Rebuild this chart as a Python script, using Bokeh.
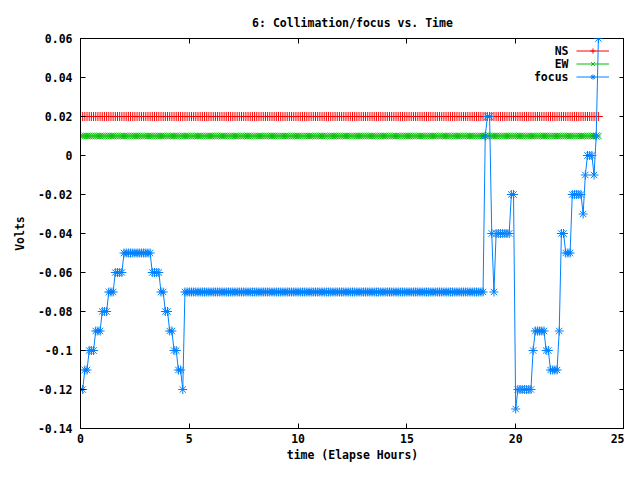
import numpy as np
from bokeh.plotting import figure
from bokeh.models import (LinearAxis, FixedTicker, CustomJSTickFormatter, Range1d,
                          Legend, LegendItem, Label)
from bokeh.core.properties import value
from bokeh.embed import file_html
from bokeh.resources import INLINE

# ---------------- data ----------------
TITLE = "6: Collimation/focus vs. Time"
X_LABEL = "time (Elapse Hours)"
Y_LABEL = "Volts"
SERIES_NAMES = ["NS", "EW", "focus"]

sample_step_hours = 0.1
n_samples = 239

ns_level = 0.02
ew_level = 0.01

# focus trace, run-length encoded: value and number of consecutive samples
focus_levels = [-0.12, -0.11, -0.10, -0.09, -0.08, -0.07, -0.06, -0.05, -0.06,
                -0.07, -0.08, -0.09, -0.10, -0.11, -0.12, -0.07,
                0.01, 0.02, -0.04, -0.07, -0.04, -0.02, -0.13, -0.12, -0.10,
                -0.09, -0.10, -0.11, -0.09, -0.04, -0.05, -0.02, -0.03, -0.01,
                0.0, -0.01, 0.01, 0.06]
focus_counts = [2, 2, 3, 3, 3, 3, 4, 13, 4,
                2, 2, 2, 2, 2, 1, 138,
                1, 2, 1, 1, 7, 2, 1, 7, 1,
                5, 2, 4, 1, 2, 3, 5, 1, 1,
                3, 1, 1, 1]

x_ticks = [0, 5, 10, 15, 20, 25]
y_ticks = [-0.14, -0.12, -0.10, -0.08, -0.06, -0.04, -0.02, 0.0, 0.02, 0.04, 0.06]

COLORS = ["#ff0000", "#00c000", "#0080ff"]
MARKERS = ["cross", "x", "asterisk"]

# ---------------- build series ----------------
time_h = np.arange(n_samples) * sample_step_hours
ns = np.full(n_samples, ns_level)
ew = np.full(n_samples, ew_level)
focus = np.repeat(focus_levels, focus_counts)[:n_samples]

FONT = "DejaVu Sans Mono"
FS = "11.5px"
FRAME_H = 389  # resulting frame height (38 px top, ~37 px bottom in a 464 px figure)

p = figure(width=624, height=464, output_backend="svg", toolbar_location=None,
           x_range=Range1d(0, 25), y_range=Range1d(-0.14, 0.06),
           min_border_left=80, min_border_right=0, min_border_top=38,
           min_border_bottom=26)
p.background_fill_color = "white"
p.border_fill_color = "white"
p.grid.visible = False
p.outline_line_color = "black"
p.outline_line_width = 1

fmt = CustomJSTickFormatter(code="return String(Number(tick.toFixed(4)));")
blank = CustomJSTickFormatter(code="return '';")

renderers = []
for vals, col, mk in zip([ns, ew, focus], COLORS, MARKERS):
    l = p.line(time_h, vals, line_color=col, line_width=1)
    s = p.scatter(time_h, vals, marker=mk, size=9, line_color=col, fill_color=None,
                  line_width=1)
    renderers.append([l, s])

for ax in [p.xaxis[0], p.yaxis[0]]:
    ax.major_tick_in = 5
    ax.major_tick_out = 0
    ax.minor_tick_line_color = None
    ax.axis_line_color = "black"
    ax.major_label_text_font = FONT
    ax.major_label_text_font_size = FS
    ax.major_label_text_font_style = "bold"
    ax.major_label_text_color = "black"
    ax.axis_label_text_font = FONT
    ax.axis_label_text_font_size = FS
    ax.axis_label_text_font_style = "bold"
    ax.axis_label_text_color = "black"
    ax.formatter = fmt

p.xaxis[0].ticker = FixedTicker(ticks=x_ticks)
p.yaxis[0].ticker = FixedTicker(ticks=y_ticks)
p.xaxis[0].axis_label = X_LABEL
p.yaxis[0].axis_label = Y_LABEL
p.xaxis[0].major_label_standoff = 5
p.xaxis[0].axis_label_standoff = 2
p.yaxis[0].major_label_standoff = 8
p.yaxis[0].axis_label_standoff = 8

# mirrored ticks on top and right
for side, tk in [("above", x_ticks), ("right", y_ticks)]:
    ax = LinearAxis(ticker=FixedTicker(ticks=tk), formatter=blank,
                    major_tick_in=5, major_tick_out=0, minor_tick_line_color=None,
                    axis_line_color=None, major_label_standoff=0,
                    major_label_text_font_size="1px")
    p.add_layout(ax, side)

p.title.text = TITLE
p.title.align = "center"
p.title.text_font = FONT
p.title.text_font_size = FS
p.title.text_font_style = "bold"
p.title.text_color = "black"
p.title.standoff = 18

# legend: samples on the right, texts right-aligned to their left
row_top = FRAME_H - 11
legend = Legend(items=[LegendItem(label=value(""), renderers=r) for r in renderers],
                location=(496, row_top - 26 - 6.5), glyph_width=33, glyph_height=13,
                label_width=0, label_height=13, label_standoff=0, spacing=0,
                padding=0, margin=0, border_line_color=None,
                background_fill_alpha=0, label_text_font_size="1px")
p.add_layout(legend)

for i, name in enumerate(SERIES_NAMES):
    p.add_layout(Label(x=488, y=row_top - 13 * i, x_units="screen", y_units="screen",
                       text=name, text_align="right", text_baseline="middle",
                       text_font=FONT, text_font_size=FS,
                       text_font_style="bold", text_color="black"))

open("out.html", "w").write(file_html(p, INLINE))
